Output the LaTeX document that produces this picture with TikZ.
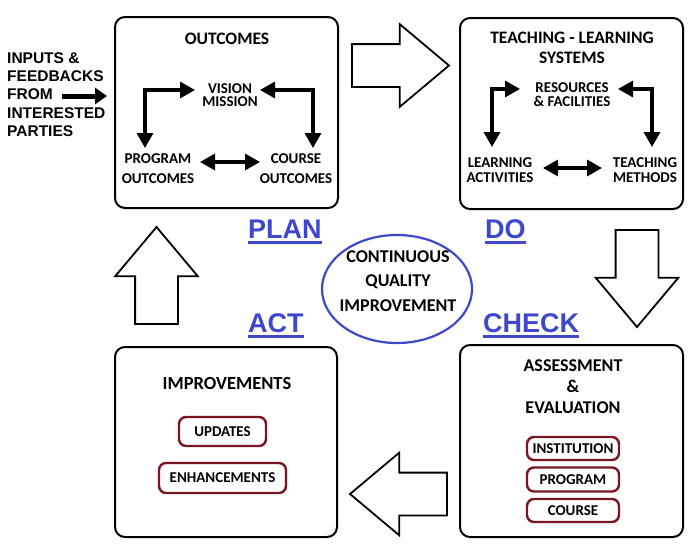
\documentclass[tikz,border=0pt]{standalone}
\usepackage{fontspec}
\setmainfont{Carlito}
\newfontfamily\arialfont{Liberation Sans}
\usetikzlibrary{
  arrows.meta,
  shapes.geometric,
  shapes.arrows,
  positioning
}
\definecolor{xblue}{RGB}{63,72,204}
\definecolor{xmaroon}{RGB}{122,22,34}

\begin{document}
\begin{tikzpicture}[
  x=1pt, y=-1pt,
  stage/.style 2 args={
    draw=black, line width=2pt, rounded corners=10pt,
    minimum width=#1, minimum height=#2, inner sep=0pt
  },
  title/.style={font=\bfseries\fontsize{17.5}{20}\selectfont, align=center, inner sep=0pt},
  item/.style={font=\bfseries\fontsize{15}{#1}\selectfont, align=center, inner sep=0pt},
  item/.default=15,
  tag/.style 2 args={
    draw=xmaroon, line width=2.4pt, rounded corners=7pt,
    minimum width=#1, minimum height=#2, inner sep=0pt,
    font=\bfseries\fontsize{15}{15}\selectfont
  },
  dblarrow/.style={{Triangle[length=15pt,width=16pt]}-{Triangle[length=15pt,width=16pt]},
                   line width=3.2pt},
  inarrow/.style={-{Triangle[length=12pt,width=16pt]}, line width=5pt},
  blockarrow/.style={
    single arrow, draw=black, fill=white, line width=1.8pt,
    minimum height=97pt, minimum width=81pt,
    single arrow head extend=20pt, single arrow tip angle=80,
    inner xsep=0pt, inner ysep=20.5pt, outer sep=0pt, anchor=tip
  },
  vblockarrow/.style={blockarrow, inner xsep=20.5pt, inner ysep=0pt},
  phase/.style={
    font=\arialfont\bfseries\fontsize{27}{27}\selectfont, text=xblue,
    inner sep=0pt, anchor=base west,
    append after command={
      ([yshift=-4.5pt]\tikzlastnode.base west) edge[draw=xblue, line width=2.4pt]
      ([yshift=-4.5pt]\tikzlastnode.base east)}
  },
  cqi/.style={ellipse, draw=xblue, line width=2.2pt,
              minimum width=150pt, minimum height=108pt, inner sep=0pt}
]
  \useasboundingbox (0,0) rectangle (697,549);

  % the four stages
  \node[stage={223pt}{191pt}] (OUT) at (226.5,112.5) {};
  \node[stage={223pt}{191pt}] (TLS) at (571.5,113.5) {};
  \node[stage={222pt}{190pt}] (IMP) at (226,442) {};
  \node[stage={223pt}{192pt}] (AE)  at (571.5,441) {};

  % plan
  \node[title] (OUTt) at (227,39) {OUTCOMES};
  \node[item=13.5] (VM) at (230,95) {VISION\\MISSION};
  \node[item=20]   (PO) at (158,169) {PROGRAM\\OUTCOMES};
  \node[item=20]   (CO) at (296,169) {COURSE\\OUTCOMES};
  \draw[dblarrow] ([shift={(-35,-5)}]VM.center) -| ([shift={(-13,-21)}]PO.center);
  \draw[dblarrow] ([shift={(30,-5)}]VM.center) -| ([shift={(17,-21)}]CO.center);
  \draw[dblarrow] ([shift={(42,-7)}]PO.center) -- ([shift={(-36,-7)}]CO.center);

  % do
  \node[title] (TLSt) at (572,48) {TEACHING - LEARNING\\SYSTEMS};
  \node[item=14] (RF) at (572,95) {RESOURCES\\\& FACILITIES};
  \node[item]    (LA) at (500,170) {LEARNING\\ACTIVITIES};
  \node[item]    (TM) at (645,170) {TEACHING\\METHODS};
  \draw[dblarrow] ([shift={(-52,-6)}]RF.center) -| ([shift={(-8,-23)}]LA.center);
  \draw[dblarrow] ([shift={(46,-6)}]RF.center) -| ([shift={(7,-23)}]TM.center);
  \draw[dblarrow] ([shift={(43,-2)}]LA.center) -- ([shift={(-43,-2)}]TM.center);

  % check
  \node[title, font=\bfseries\fontsize{18}{21}\selectfont] (AEt) at (573,387)
    {ASSESSMENT\\\&\\EVALUATION};
  \node[tag={92pt}{23pt}] (INS) at (573,448.5) {INSTITUTION};
  \node[tag={92pt}{24pt}] (PRG) at (573,479.5) {PROGRAM};
  \node[tag={92pt}{23pt}] (CRS) at (573,510.5) {COURSE};

  % act
  \node[title, font=\bfseries\fontsize{18.5}{21}\selectfont] (IMPt) at (227,383) {IMPROVEMENTS};
  \node[tag={87pt}{29pt}]  (UPD) at (222.5,431.5) {UPDATES};
  \node[tag={127pt}{30pt}] (ENH) at (222.5,478) {ENHANCEMENTS};

  % inputs
  \node[font=\arialfont\bfseries\fontsize{15.5}{18.3}\selectfont, align=left,
        inner sep=0pt, anchor=west] (IN) at (7,94.5)
    {INPUTS \&\\FEEDBACKS\\FROM\\INTERESTED\\PARTIES};
  \coordinate (feed) at (62,96);
  \draw[inarrow, shorten >=7pt] (feed) -- (feed -| OUT.west);

  % cycle arrows
  \node[blockarrow] (A1) at (449,65.5) {};
  \node[vblockarrow, shape border rotate=270] (A2) at (637,327) {};
  \node[blockarrow, shape border rotate=180]  (A3) at (350,494) {};
  \node[vblockarrow, shape border rotate=90]  (A4) at (156.5,227) {};

  % phases
  \node[phase] (PLAN)  at (248,238) {PLAN};
  \node[phase] (DO)    at (485,238) {DO};
  \node[phase] (ACT)   at (248,332) {ACT};
  \node[phase] (CHECK) at (483,332) {CHECK};

  \node[cqi] (CQ) at (397,289) {};
  \node[item=24.5, font=\bfseries\fontsize{18}{24.5}\selectfont] (CQt) at (398,281)
    {CONTINUOUS\\QUALITY\\IMPROVEMENT};
\end{tikzpicture}
\end{document}
